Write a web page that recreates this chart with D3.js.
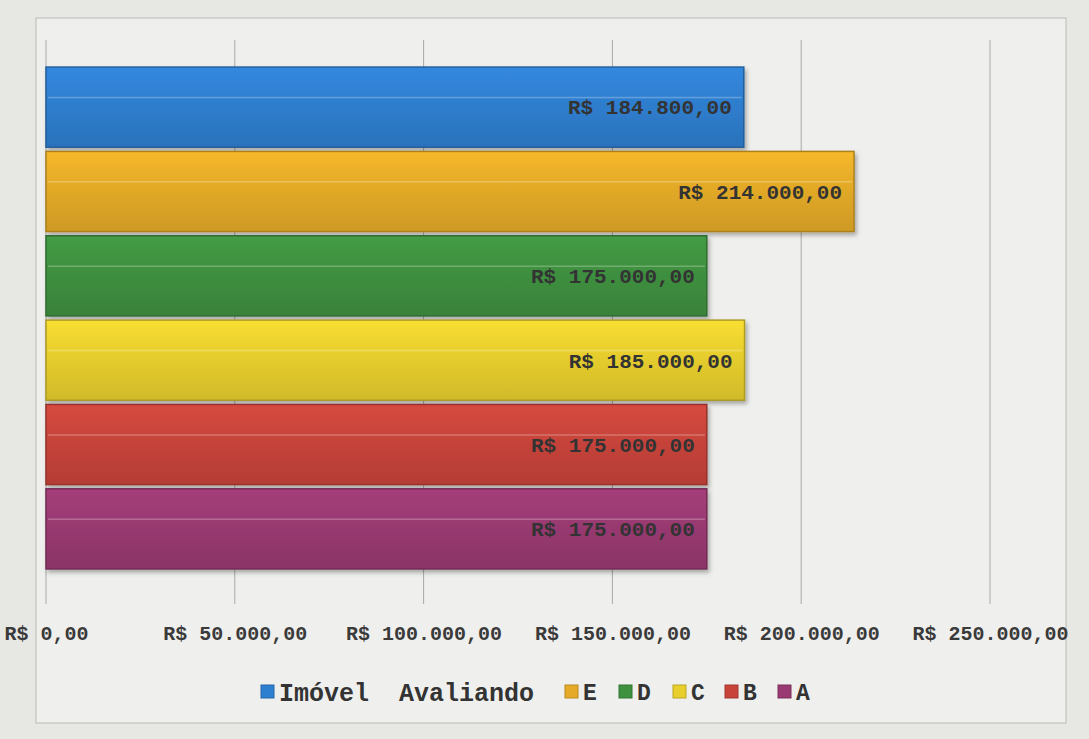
<!DOCTYPE html>
<html>
<head>
<meta charset="utf-8">
<script src="https://cdn.jsdelivr.net/npm/d3@7"></script>
<style>
  body { margin: 0; background: #e7e7e4; }
  .tick text { font-family: "Liberation Mono", monospace; font-weight: bold; }
</style>
</head>
<body>
<div id="chart"></div>
<script>
// data
var categories = ["Imóvel Avaliando", "E", "D", "C", "B", "A"];
var values = [184800, 214000, 175000, 185000, 175000, 175000];
var colors = ["#2f7fd0", "#e5ab28", "#3f9140", "#e8cf2e", "#c8443b", "#9a3a72"];
var tickValues = [0, 50000, 100000, 150000, 200000, 250000];

var svgWidth = 1089;
var svgHeight = 739;

var margin = { top: 62, right: 99, bottom: 135, left: 46 };
var width = svgWidth - margin.left - margin.right;
var height = svgHeight - margin.top - margin.bottom;

var br = d3.formatLocale({ decimal: ",", thousands: ".", grouping: [3], currency: ["R$ ", ""] });
var money = br.format("$,.2f");

var svg = d3.select("#chart")
  .append("svg")
  .attr("width", svgWidth)
  .attr("height", svgHeight);

// paper frame
svg.append("rect")
  .attr("x", 36).attr("y", 18)
  .attr("width", 1030).attr("height", 705)
  .attr("fill", "#efefed")
  .attr("stroke", "#b9b9b6");

var defs = svg.append("defs");
colors.forEach(function(c, i) {
  var g = defs.append("linearGradient")
    .attr("id", "grad" + i)
    .attr("x1", 0).attr("y1", 0).attr("x2", 0).attr("y2", 1);
  g.append("stop").attr("offset", "0%").attr("stop-color", d3.color(c).brighter(0.2));
  g.append("stop").attr("offset", "40%").attr("stop-color", c);
  g.append("stop").attr("offset", "100%").attr("stop-color", d3.color(c).darker(0.3));
});
var shadow = defs.append("filter").attr("id", "shadow")
  .attr("x", "-5%").attr("y", "-20%").attr("width", "110%").attr("height", "150%");
shadow.append("feDropShadow")
  .attr("dx", 2).attr("dy", 3).attr("stdDeviation", 2)
  .attr("flood-color", "#000").attr("flood-opacity", 0.3);

var chartGroup = svg.append("g")
  .attr("transform", `translate(${margin.left}, ${margin.top})`);

var xScale = d3.scaleLinear()
  .domain([0, 250000])
  .range([0, width]);

var yScale = d3.scaleBand()
  .domain(categories)
  .range([0, height - 30])
  .paddingInner(0.05)
  .paddingOuter(0.06);

// gridlines
chartGroup.selectAll(".grid")
  .data(tickValues)
  .enter()
  .append("line")
  .attr("x1", d => xScale(d))
  .attr("x2", d => xScale(d))
  .attr("y1", -22)
  .attr("y2", height)
  .attr("stroke", "#a8a8a5")
  .attr("stroke-width", 1);

// bottom axis, labels only
var bottomAxis = d3.axisBottom(xScale)
  .tickValues(tickValues)
  .tickFormat(money)
  .tickSize(0)
  .tickPadding(22);

var axisG = chartGroup.append("g")
  .attr("transform", `translate(0, ${height})`)
  .call(bottomAxis);
axisG.select(".domain").remove();
axisG.selectAll("text")
  .attr("font-size", 20)
  .attr("fill", "#3a3a3a");

// bars
var bars = chartGroup.selectAll(".bar")
  .data(values)
  .enter()
  .append("g")
  .attr("filter", "url(#shadow)");

bars.append("rect")
  .attr("x", xScale(0))
  .attr("y", (d, i) => yScale(categories[i]))
  .attr("width", d => xScale(d) - xScale(0))
  .attr("height", yScale.bandwidth())
  .attr("fill", (d, i) => `url(#grad${i})`)
  .attr("stroke", (d, i) => d3.color(colors[i]).darker(0.8))
  .attr("stroke-width", 1.5);

// thin highlight line near the top of each bar
bars.append("line")
  .attr("x1", xScale(0) + 2)
  .attr("x2", d => xScale(d) - 2)
  .attr("y1", (d, i) => yScale(categories[i]) + yScale.bandwidth() * 0.38)
  .attr("y2", (d, i) => yScale(categories[i]) + yScale.bandwidth() * 0.38)
  .attr("stroke", "#fff")
  .attr("stroke-opacity", 0.25)
  .attr("stroke-width", 1.5);

// value labels
chartGroup.selectAll(".val")
  .data(values)
  .enter()
  .append("text")
  .attr("x", d => xScale(d) - 12)
  .attr("y", (d, i) => yScale(categories[i]) + yScale.bandwidth() / 2)
  .attr("dy", "0.35em")
  .attr("text-anchor", "end")
  .attr("font-family", "'Liberation Mono', monospace")
  .attr("font-weight", "bold")
  .attr("font-size", 21)
  .attr("fill", "#333")
  .text(d => money(d));

// legend
var legendLabels = ["Imóvel  Avaliando", "E", "D", "C", "B", "A"];
var legend = svg.append("g").attr("transform", "translate(261, 692)");
var offsets = [0, 304, 358, 412, 464, 517];
legendLabels.forEach(function(c, i) {
  var item = legend.append("g").attr("transform", `translate(${offsets[i]}, 0)`);
  item.append("rect")
    .attr("x", 0).attr("y", -7)
    .attr("width", 13).attr("height", 13)
    .attr("fill", colors[i])
    .attr("stroke", d3.color(colors[i]).darker(0.6));
  item.append("text")
    .attr("x", 18)
    .attr("dy", "0.35em")
    .attr("font-family", "'Liberation Mono', monospace")
    .attr("font-weight", "bold")
    .attr("font-size", i === 0 ? 25 : 23)
    .attr("fill", "#333")
    .style("white-space", "pre")
    .text(c);
});
</script>
</body>
</html>
